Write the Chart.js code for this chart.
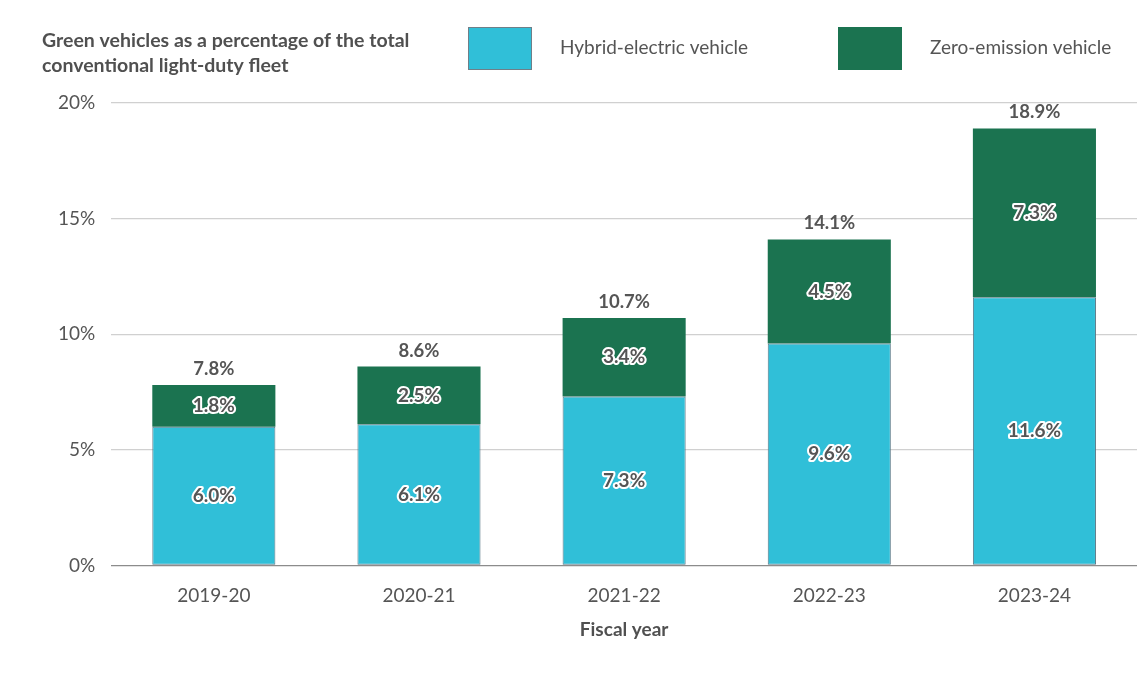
<!DOCTYPE html>
<html>
<head>
<meta charset="utf-8">
<script src="https://cdn.jsdelivr.net/npm/chart.js@4.4.1/dist/chart.umd.min.js"></script>
<style>
  body { margin: 0; background: #fff; }
  #wrap { width: 1140px; height: 690px; position: relative; }
</style>
</head>
<body>
<div id="wrap"><canvas id="chartFlota"></canvas></div>
<script>
const years = ['2019-20', '2020-21', '2021-22', '2022-23', '2023-24'];
const hybrid = [6.0, 6.1, 7.3, 9.6, 11.6];
const zeroEmission = [1.8, 2.5, 3.4, 4.5, 7.3];
const yTicks = [0, 5, 10, 15, 20];

const chartTitle = ['Green vehicles as a percentage of the total', 'conventional light-duty fleet'];
const FONT = 'Lato, "Open Sans", sans-serif';
const GRIS = '#555555';

// titulo + leyenda arriba, dibujados a mano
const headerPlugin = {
    id: 'header',
    afterDraw(chart) {
        const ctx = chart.ctx;
        ctx.save();
        ctx.fillStyle = '#505050';
        ctx.font = `bold 19.5px ${FONT}`;
        ctx.textBaseline = 'middle';
        ctx.textAlign = 'left';
        ctx.fillText(chartTitle[0], 42, 41);
        ctx.fillText(chartTitle[1], 42, 66);

        const legendPos = [{ box: 468, text: 560 }, { box: 838, text: 930 }];
        chart.data.datasets.forEach((ds, i) => {
            const p = legendPos[i];
            ctx.fillStyle = ds.backgroundColor;
            ctx.fillRect(p.box, 27, 64, 43);
            ctx.strokeStyle = i === 0 ? '#6f7f88' : ds.backgroundColor;
            ctx.lineWidth = 1;
            ctx.strokeRect(p.box + 0.5, 27.5, 63, 42);
            ctx.fillStyle = GRIS;
            ctx.font = `19px ${FONT}`;
            ctx.fillText(ds.label, p.text, 48);
        });
        ctx.restore();
    }
};

// etiquetas dentro de las barras y totales
const labelsPlugin = {
    id: 'barLabels',
    afterDatasetsDraw(chart) {
        const ctx = chart.ctx;
        ctx.save();
        ctx.textAlign = 'center';
        ctx.textBaseline = 'middle';
        chart.data.datasets.forEach((ds, di) => {
            const meta = chart.getDatasetMeta(di);
            meta.data.forEach((bar, i) => {
                const y = (bar.y + bar.base) / 2;
                const txt = ds.data[i].toFixed(1) + '%';
                ctx.font = `bold 19px ${FONT}`;
                ctx.lineJoin = 'round';
                ctx.lineWidth = 4;
                ctx.strokeStyle = '#ffffff';
                ctx.strokeText(txt, bar.x, y);
                ctx.fillStyle = GRIS;
                ctx.fillText(txt, bar.x, y);
            });
        });
        const top = chart.getDatasetMeta(chart.data.datasets.length - 1);
        top.data.forEach((bar, i) => {
            const total = hybrid[i] + zeroEmission[i];
            ctx.font = `bold 18.5px ${FONT}`;
            ctx.fillStyle = GRIS;
            ctx.fillText(total.toFixed(1) + '%', bar.x, bar.y - 16);
        });
        ctx.restore();
    }
};

const ctxFlota = document.getElementById('chartFlota').getContext('2d');
new Chart(ctxFlota, {
    type: 'bar',
    data: {
        labels: years,
        datasets: [
            {
                label: 'Hybrid-electric vehicle',
                data: hybrid,
                backgroundColor: '#30bfd8',
                borderColor: '#5a7886',
                borderWidth: 1,
                borderSkipped: false
            },
            {
                label: 'Zero-emission vehicle',
                data: zeroEmission,
                backgroundColor: '#1b7350',
                borderWidth: 0
            }
        ]
    },
    options: {
        responsive: true,
        maintainAspectRatio: false,
        animation: false,
        datasets: { bar: { barPercentage: 0.6, categoryPercentage: 1 } },
        layout: { padding: { top: 103, left: 42, right: 3, bottom: 45 } },
        scales: {
            x: {
                stacked: true,
                grid: { display: false },
                border: { display: false },
                ticks: { color: GRIS, font: { family: FONT, size: 19 }, padding: 11 },
                title: {
                    display: true,
                    text: 'Fiscal year',
                    color: '#505050',
                    font: { family: FONT, size: 19, weight: 'bold' },
                    padding: { top: 0 }
                }
            },
            y: {
                stacked: true,
                min: 0,
                max: 20,
                afterBuildTicks: axis => { axis.ticks = yTicks.map(v => ({ value: v })); },
                grid: {
                    color: ctx => ctx.tick.value === 0 ? '#8c8c8c' : '#d0d0d0',
                    lineWidth: 1.2,
                    drawTicks: false
                },
                border: { display: false },
                ticks: {
                    color: GRIS,
                    font: { family: FONT, size: 19 },
                    padding: 16,
                    callback: v => v + '%'
                }
            }
        },
        plugins: {
            legend: { display: false },
            tooltip: { enabled: false }
        }
    },
    plugins: [headerPlugin, labelsPlugin]
});
</script>
</body>
</html>
